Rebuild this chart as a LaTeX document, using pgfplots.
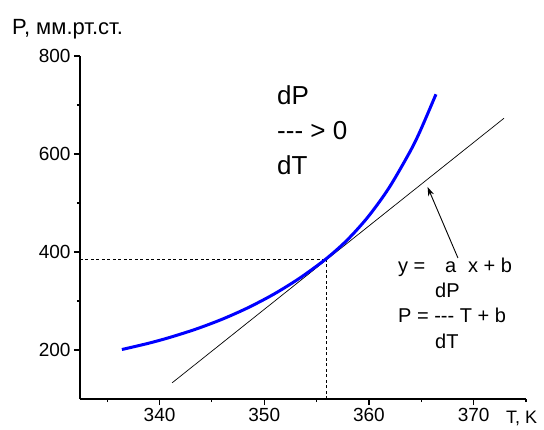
\documentclass[border=0pt]{standalone}
\usepackage{fontspec}
\setmainfont{Liberation Sans}
\usepackage{pgfplots}
\pgfplotsset{compat=1.18}
\usetikzlibrary{calc,arrows.meta}

\begin{document}
\begin{tikzpicture}
\begin{axis}[name=ax, scale only axis, width=446pt, height=343pt,
 xmin=332.4, xmax=375, ymin=100, ymax=800,
 axis x line=bottom, axis y line=left, axis line style={-, line width=1.1pt},
 xtick={340,350,360,370}, minor xtick={335,345,355,365,375},
 ytick={200,400,600,800}, minor ytick={300,500,700},
 tick align=outside, major tick length=6pt, minor tick length=3pt,
 tick style={black, line width=1.1pt},
 tick label style={font=\fontsize{19}{21}\selectfont},
 /pgf/number format/assume math mode=true,
 clip=false,
]
\addplot[black, line width=0.6pt, dash pattern=on 3pt off 2.5pt] coordinates {(332.4,386) (355.9,386)};
\addplot[black, line width=0.6pt, dash pattern=on 3pt off 2.5pt] coordinates {(355.9,100) (355.9,386)};
\addplot[black, line width=0.7pt] coordinates {(341.2,133) (372.9,673)};
\addplot[blue, line width=3pt, smooth] coordinates {
(336.4,201) (338.9,213.5) (340.9,225.2) (343.4,242.1) (345.9,262.1) (348.4,285.8) (350.9,313.8) (353.4,346.9) (355.9,386) (357.9,424.0) (359.9,471.4) (361.9,530.4) (363.9,604.0) (364.9,647.3) (366.4,721.9)};
\draw[-{Stealth[length=9pt,width=6pt]}, line width=0.9pt] (axis cs:368.5,387.8) -- (axis cs:365.6,532.7);
\end{axis}
\begin{scope}[every node/.style={anchor=base west, inner sep=0pt}]
\node[font=\fontsize{22}{26}\selectfont] at ($(ax.south west)+(-68pt,364pt)$) {P, мм.рт.ст.};
\node[font=\fontsize{18}{20}\selectfont] at ($(ax.south west)+(426pt,-24pt)$) {T, K};
\node[font=\fontsize{26}{30}\selectfont] at ($(ax.south west)+(197pt,294pt)$) {dP};
\node[font=\fontsize{26}{30}\selectfont] at ($(ax.south west)+(197pt,259pt)$) {{-}{-}{-} > 0};
\node[font=\fontsize{26}{30}\selectfont] at ($(ax.south west)+(197pt,224pt)$) {dT};
\node[font=\fontsize{20}{22}\selectfont] at ($(ax.south west)+(318pt,127pt)$) {y =};
\node[font=\fontsize{20}{22}\selectfont] at ($(ax.south west)+(365pt,127pt)$) {a};
\node[font=\fontsize{20}{22}\selectfont] at ($(ax.south west)+(388pt,127pt)$) {x + b};
\node[font=\fontsize{20}{22}\selectfont] at ($(ax.south west)+(355pt,102pt)$) {dP};
\node[font=\fontsize{20}{22}\selectfont] at ($(ax.south west)+(318pt,77pt)$) {P = {-}{-}{-} T + b};
\node[font=\fontsize{20}{22}\selectfont] at ($(ax.south west)+(355pt,51pt)$) {dT};
\end{scope}
\pgfresetboundingbox
\path[use as bounding box] ($(ax.south west)+(-80pt,-30pt)$) rectangle ($(ax.south west)+(464pt,399pt)$);
\end{tikzpicture}
\end{document}
